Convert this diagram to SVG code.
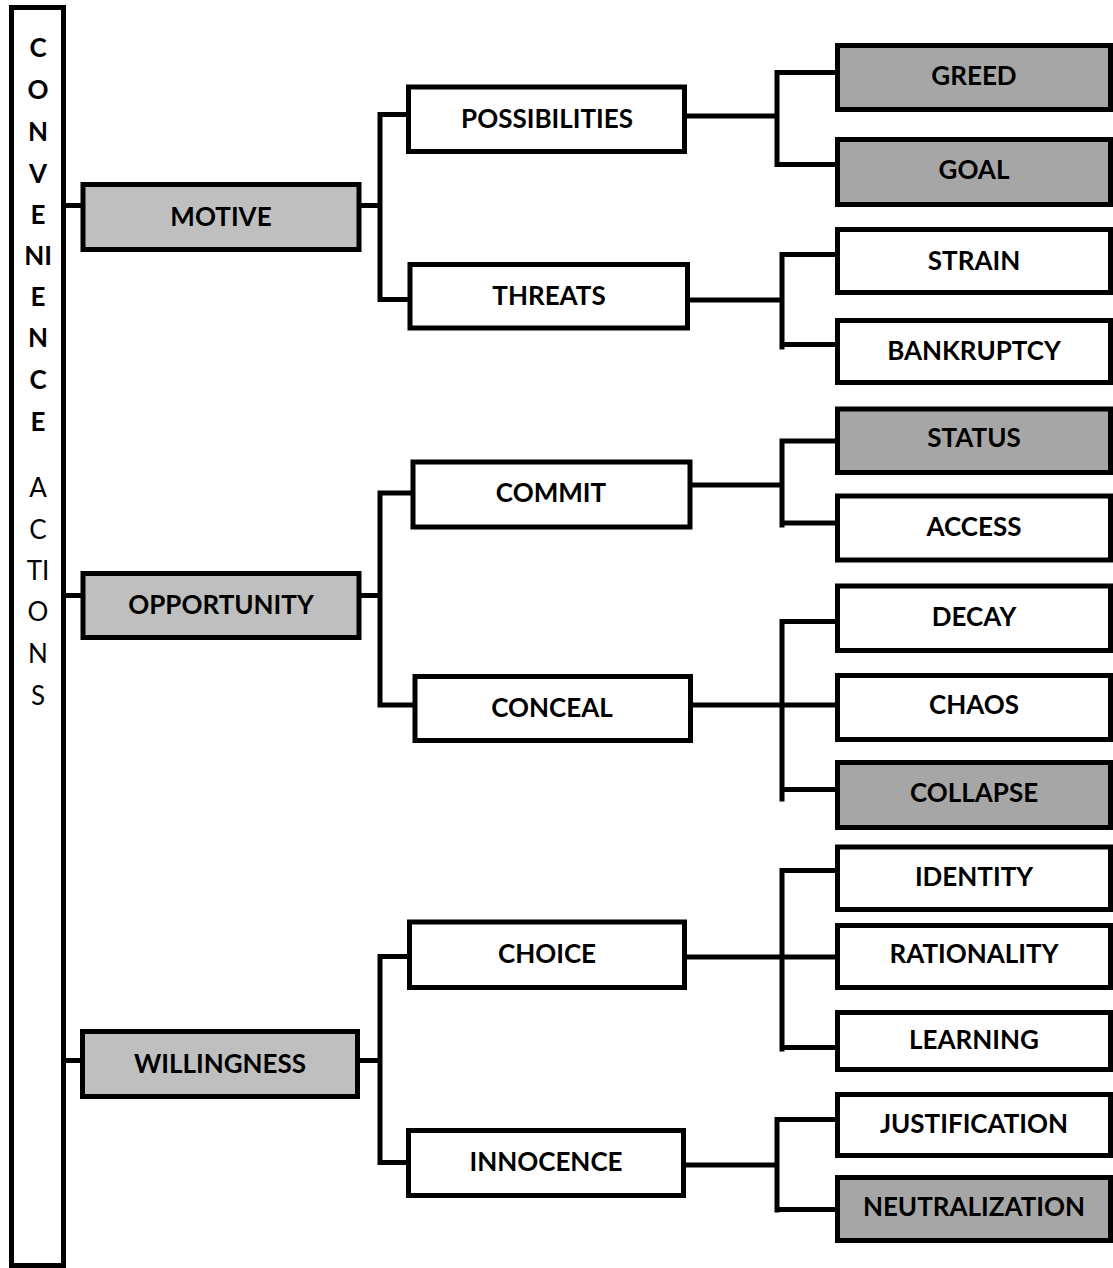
<svg xmlns="http://www.w3.org/2000/svg" width="1113" height="1268" viewBox="0 0 1113 1268">
<style>
.box{stroke:#000;stroke-width:5;}
.w{fill:#fff;}
.g1{fill:#bfbfbf;}
.g2{fill:#a6a6a6;}
.t{font-family:Lato,"Liberation Sans",sans-serif;font-weight:bold;font-size:26px;fill:#000;text-anchor:middle;}
.tr{font-family:Lato,"Liberation Sans",sans-serif;font-weight:normal;font-size:26px;fill:#000;text-anchor:middle;}
.c{fill:none;stroke:#000;stroke-width:5;stroke-linecap:square;}
</style>
<rect width="1113" height="1268" fill="#fff"/>
<g id="connectors" class="c">
<path d="M64 205.5H83"/>
<path d="M64 595.5H83"/>
<path d="M64 1060.5H82"/>
<path d="M359 205.5H380M380 114.5V299.5M380 114.5H408M380 299.5H410"/>
<path d="M359 595.5H380M380 493V705M380 493H413M380 705H415"/>
<path d="M358 1060.5H380M380 956.5V1162.5M380 956.5H409M380 1162.5H408"/>
<path d="M685 116H777M777 72.5V164.5M777 72.5H837M777 164.5H837"/>
<path d="M688 300H782M782 254.5V347M782 254.5H837M782 344.5H837"/>
<path d="M690 485H782M782 441V525M782 441H837M782 523H837"/>
<path d="M690 705H782M782 621.5V799M782 621.5H839M782 705H837M782 789.5H837"/>
<path d="M685 957H782M782 870.5V1049M782 870.5H837M782 957H839M782 1047.5H837"/>
<path d="M684 1165H777M777 1119.5V1210M777 1119.5H837M777 1209.5H839"/>
</g>
<g id="convenience">
<rect class="box w" x="11.5" y="7.5" width="52" height="1258"/>
<text class="t" x="38" y="57">C</text>
<text class="t" x="38" y="99">O</text>
<text class="t" x="38" y="141">N</text>
<text class="t" x="38" y="183">V</text>
<text class="t" x="38" y="224">E</text>
<text class="t" x="38" y="265">NI</text>
<text class="t" x="38" y="306">E</text>
<text class="t" x="38" y="347">N</text>
<text class="t" x="38" y="389">C</text>
<text class="t" x="38" y="431">E</text>
<text class="tr" x="38" y="497">A</text>
<text class="tr" x="38" y="539">C</text>
<text class="tr" x="38" y="580">TI</text>
<text class="tr" x="38" y="621">O</text>
<text class="tr" x="38" y="663">N</text>
<text class="tr" x="38" y="705">S</text>
</g>
<g id="motive"><rect class="box g1" x="83" y="184.5" width="276" height="65"/><text class="t" x="221" y="226">MOTIVE</text></g>
<g id="opportunity"><rect class="box g1" x="83" y="573.5" width="276" height="64"/><text class="t" x="221" y="614">OPPORTUNITY</text></g>
<g id="willingness"><rect class="box g1" x="82.5" y="1031.5" width="275" height="65"/><text class="t" x="220" y="1073">WILLINGNESS</text></g>
<g id="possibilities"><rect class="box w" x="408.5" y="87" width="276" height="64.5"/><text class="t" x="547" y="128">POSSIBILITIES</text></g>
<g id="threats"><rect class="box w" x="410" y="264.5" width="277.5" height="63.5"/><text class="t" x="549" y="305">THREATS</text></g>
<g id="commit"><rect class="box w" x="413" y="462" width="277" height="65"/><text class="t" x="551" y="502">COMMIT</text></g>
<g id="conceal"><rect class="box w" x="415" y="676.5" width="275.5" height="64"/><text class="t" x="552" y="717">CONCEAL</text></g>
<g id="choice"><rect class="box w" x="409.5" y="922" width="275" height="65.5"/><text class="t" x="547" y="963">CHOICE</text></g>
<g id="innocence"><rect class="box w" x="408.5" y="1130.5" width="275" height="65"/><text class="t" x="546" y="1171">INNOCENCE</text></g>
<g id="greed"><rect class="box g2" x="837.5" y="45.5" width="273" height="64"/><text class="t" x="974" y="85">GREED</text></g>
<g id="goal"><rect class="box g2" x="837.5" y="139.5" width="273" height="65"/><text class="t" x="974" y="179">GOAL</text></g>
<g id="strain"><rect class="box w" x="837.5" y="229.5" width="273" height="63"/><text class="t" x="974" y="270">STRAIN</text></g>
<g id="bankruptcy"><rect class="box w" x="837.5" y="320.5" width="273" height="62"/><text class="t" x="974" y="360">BANKRUPTCY</text></g>
<g id="status"><rect class="box g2" x="837.5" y="409" width="273" height="63.5"/><text class="t" x="974" y="447">STATUS</text></g>
<g id="access"><rect class="box w" x="837.5" y="496" width="273" height="64"/><text class="t" x="974" y="536">ACCESS</text></g>
<g id="decay"><rect class="box w" x="837.5" y="586" width="273" height="64.5"/><text class="t" x="974" y="626">DECAY</text></g>
<g id="chaos"><rect class="box w" x="837.5" y="675.5" width="273" height="64"/><text class="t" x="974" y="714">CHAOS</text></g>
<g id="collapse"><rect class="box g2" x="837.5" y="762.5" width="273" height="65"/><text class="t" x="974" y="802">COLLAPSE</text></g>
<g id="identity"><rect class="box w" x="837.5" y="847" width="273" height="62.5"/><text class="t" x="974" y="886">IDENTITY</text></g>
<g id="rationality"><rect class="box w" x="837.5" y="925.5" width="273" height="62"/><text class="t" x="974" y="963">RATIONALITY</text></g>
<g id="learning"><rect class="box w" x="837.5" y="1012.5" width="273" height="57"/><text class="t" x="974" y="1049">LEARNING</text></g>
<g id="justification"><rect class="box w" x="837.5" y="1094.5" width="273" height="61"/><text class="t" x="974" y="1133">JUSTIFICATION</text></g>
<g id="neutralization"><rect class="box g2" x="837.5" y="1177.5" width="273" height="63"/><text class="t" x="974" y="1216">NEUTRALIZATION</text></g>
</svg>
